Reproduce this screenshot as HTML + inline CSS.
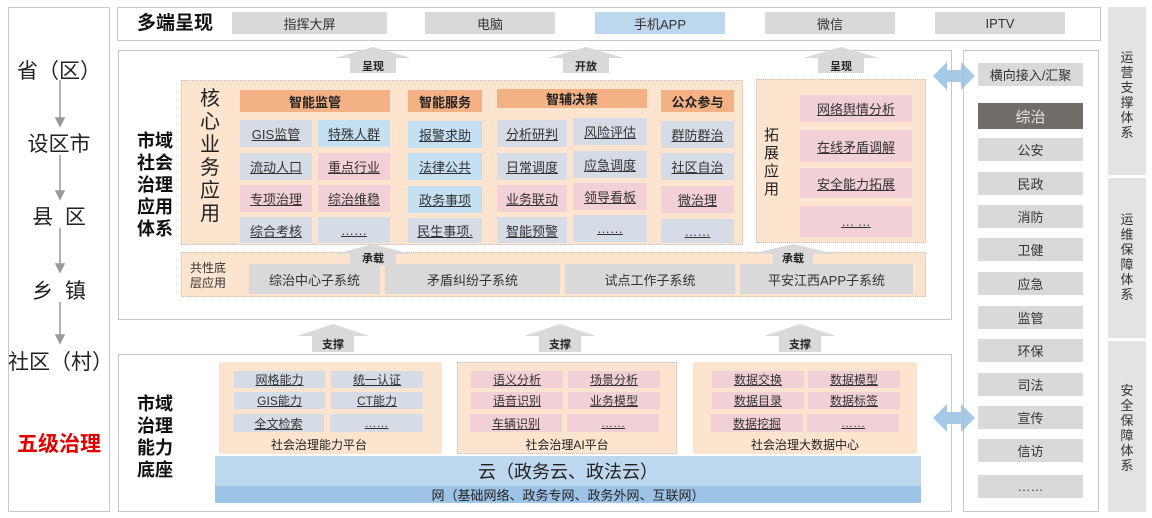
<!DOCTYPE html>
<html><head><meta charset="utf-8">
<style>
*{margin:0;padding:0;box-sizing:border-box}
body{width:1152px;height:518px;position:relative;background:#fff;font-family:"Liberation Sans","Noto Sans CJK SC",sans-serif;color:#333;overflow:hidden}
.a{position:absolute}
.c{position:absolute;display:flex;align-items:center;justify-content:center;font-size:13px;text-decoration:underline;color:#333;white-space:nowrap}
.g{background:#d6dce5}.b{background:#c4e0f2}.p{background:#f2d0d7}.gr{background:#d9d9d9}
.h{position:absolute;display:flex;align-items:center;justify-content:center;background:#f4b183;font-weight:bold;font-size:13px;color:#222}
.v{position:absolute;font-size:13px;line-height:15px;text-align:center;width:16px;color:#333}
.box{position:absolute;border:1.5px solid #c8c8c8;background:#fff}
.peach{position:absolute;background:#fde4cf;border:1px dotted #cbb}
.s{position:absolute;display:flex;align-items:center;justify-content:center;background:#d9d9d9;font-size:13px;color:#333}
.t{position:absolute;font-weight:bold;font-size:18px;line-height:22px;color:#111;text-align:center}
.lv{position:absolute;left:8px;width:102px;text-align:center;font-size:21px;color:#222}
</style></head><body>

<!-- left panel -->
<div class="box" style="left:8px;top:7px;width:102px;height:505px"></div>
<div class="lv" style="top:55px">省（区）</div>
<div class="lv" style="top:128px">设区市</div>
<div class="lv" style="top:201px">县&nbsp;&nbsp;区</div>
<div class="lv" style="top:275px">乡&nbsp;&nbsp;镇</div>
<div class="lv" style="top:346px">社区（村）</div>
<div class="lv" style="top:428px;color:#e00000;font-weight:bold">五级治理</div>
<svg class="a" style="left:0;top:0" width="120" height="518">
<g stroke="#999" stroke-width="1.5" fill="#999">
<line x1="60" y1="80" x2="60" y2="120"/><polygon points="56,118 64,118 60,126"/>
<line x1="60" y1="155" x2="60" y2="193"/><polygon points="56,191 64,191 60,199"/>
<line x1="60" y1="228" x2="60" y2="266"/><polygon points="56,264 64,264 60,272"/>
<line x1="60" y1="302" x2="60" y2="337"/><polygon points="56,335 64,335 60,343"/>
</g></svg>

<!-- top bar -->
<div class="box" style="left:117px;top:7px;width:984px;height:34px"></div>
<div class="t" style="left:137px;top:13px;font-size:19px">多端呈现</div>
<div class="s" style="left:232px;top:12px;width:155px;height:22px">指挥大屏</div>
<div class="s" style="left:425px;top:12px;width:130px;height:22px">电脑</div>
<div class="s" style="left:595px;top:12px;width:130px;height:22px;background:#bdd7ee">手机APP</div>
<div class="s" style="left:765px;top:12px;width:130px;height:22px">微信</div>
<div class="s" style="left:935px;top:12px;width:130px;height:22px">IPTV</div>

<!-- middle panel -->
<div class="box" style="left:118px;top:50px;width:834px;height:270px"></div>
<div class="t" style="left:133px;top:130px;width:44px">市域<br>社会<br>治理<br>应用<br>体系</div>

<!-- core box -->
<div class="peach" style="left:181px;top:80px;width:562px;height:165px"></div>
<div class="a" style="left:199px;top:88px;width:22px;font-size:20px;line-height:23px;text-align:center;color:#222">核心业务应用</div>
<div class="h" style="left:240px;top:90px;width:150px;height:22px">智能监管</div>
<div class="h" style="left:408px;top:90px;width:74px;height:22px">智能服务</div>
<div class="h" style="left:497px;top:89px;width:150px;height:19px">智辅决策</div>
<div class="h" style="left:661px;top:90px;width:73px;height:22px">公众参与</div>

<div class="c g" style="left:240px;top:120px;width:72px;height:27px">GIS监管</div>
<div class="c b" style="left:318px;top:120px;width:72px;height:27px">特殊人群</div>
<div class="c g" style="left:240px;top:153px;width:72px;height:27px">流动人口</div>
<div class="c p" style="left:318px;top:153px;width:72px;height:27px">重点行业</div>
<div class="c p" style="left:240px;top:185px;width:72px;height:27px">专项治理</div>
<div class="c p" style="left:318px;top:185px;width:72px;height:27px">综治维稳</div>
<div class="c g" style="left:240px;top:217px;width:72px;height:26px">综合考核</div>
<div class="c g" style="left:318px;top:217px;width:72px;height:26px">……</div>

<div class="c b" style="left:408px;top:121px;width:74px;height:27px">报警求助</div>
<div class="c b" style="left:408px;top:153px;width:74px;height:27px">法律公共</div>
<div class="c b" style="left:408px;top:186px;width:74px;height:27px">政务事项</div>
<div class="c g" style="left:408px;top:218px;width:74px;height:25px">民生事项.</div>

<div class="c g" style="left:497px;top:120px;width:70px;height:27px">分析研判</div>
<div class="c g" style="left:573px;top:118px;width:74px;height:27px">风险评估</div>
<div class="c g" style="left:497px;top:153px;width:70px;height:27px">日常调度</div>
<div class="c g" style="left:573px;top:151px;width:74px;height:27px">应急调度</div>
<div class="c p" style="left:497px;top:185px;width:70px;height:27px">业务联动</div>
<div class="c p" style="left:573px;top:183px;width:74px;height:27px">领导看板</div>
<div class="c g" style="left:497px;top:217px;width:70px;height:26px">智能预警</div>
<div class="c g" style="left:573px;top:215px;width:74px;height:27px">……</div>

<div class="c g" style="left:661px;top:121px;width:73px;height:27px">群防群治</div>
<div class="c g" style="left:661px;top:153px;width:73px;height:27px">社区自治</div>
<div class="c p" style="left:661px;top:186px;width:73px;height:27px">微治理</div>
<div class="c g" style="left:661px;top:219px;width:73px;height:24px">……</div>

<!-- expand -->
<div class="peach" style="left:756px;top:79px;width:170px;height:164px"></div>
<div class="a" style="left:764px;top:127px;width:16px;font-size:15px;line-height:18px;color:#222">拓展应用</div>
<div class="c p" style="left:800px;top:95px;width:112px;height:27px">网络舆情分析</div>
<div class="c p" style="left:800px;top:130px;width:112px;height:32px">在线矛盾调解</div>
<div class="c p" style="left:800px;top:168px;width:112px;height:30px">安全能力拓展</div>
<div class="c p" style="left:800px;top:206px;width:112px;height:31px">… …</div>

<!-- common -->
<div class="peach" style="left:181px;top:252px;width:745px;height:45px"></div>
<div class="a" style="left:190px;top:261px;font-size:12px;line-height:15px;color:#333">共性底<br>层应用</div>
<div class="s" style="left:249px;top:264px;width:131px;height:30px">综治中心子系统</div>
<div class="s" style="left:385px;top:264px;width:175px;height:30px">矛盾纠纷子系统</div>
<div class="s" style="left:565px;top:264px;width:170px;height:30px">试点工作子系统</div>
<div class="s" style="left:740px;top:264px;width:173px;height:30px">平安江西APP子系统</div>

<!-- bottom panel -->
<div class="box" style="left:118px;top:354px;width:834px;height:158px"></div>
<div class="t" style="left:133px;top:393px;width:44px">市域<br>治理<br>能力<br>底座</div>

<div class="peach" style="left:219px;top:362px;width:223px;height:92px;border:none"></div>
<div class="c g" style="left:234px;top:371px;width:91px;height:17px;font-size:12px">网格能力</div>
<div class="c g" style="left:331px;top:371px;width:92px;height:17px;font-size:12px">统一认证</div>
<div class="c g" style="left:234px;top:392px;width:91px;height:17px;font-size:12px">GIS能力</div>
<div class="c g" style="left:331px;top:392px;width:92px;height:17px;font-size:12px">CT能力</div>
<div class="c g" style="left:233px;top:414px;width:91px;height:18px;font-size:12px">全文检索</div>
<div class="c g" style="left:330px;top:414px;width:93px;height:18px;font-size:12px">……</div>
<div class="a" style="left:219px;top:436px;width:200px;text-align:center;font-size:12px;color:#222">社会治理能力平台</div>

<div class="peach" style="left:457px;top:362px;width:220px;height:92px"></div>
<div class="c p" style="left:471px;top:371px;width:92px;height:17px;font-size:12px">语义分析</div>
<div class="c p" style="left:568px;top:371px;width:92px;height:17px;font-size:12px">场景分析</div>
<div class="c p" style="left:471px;top:392px;width:92px;height:17px;font-size:12px">语音识别</div>
<div class="c p" style="left:568px;top:392px;width:92px;height:17px;font-size:12px">业务模型</div>
<div class="c p" style="left:470px;top:414px;width:92px;height:18px;font-size:12px">车辆识别</div>
<div class="c p" style="left:567px;top:414px;width:92px;height:18px;font-size:12px">……</div>
<div class="a" style="left:457px;top:436px;width:220px;text-align:center;font-size:12px;color:#222">社会治理AI平台</div>

<div class="peach" style="left:693px;top:362px;width:224px;height:92px;border:none"></div>
<div class="c p" style="left:712px;top:371px;width:92px;height:17px;font-size:12px">数据交换</div>
<div class="c p" style="left:808px;top:371px;width:92px;height:17px;font-size:12px">数据模型</div>
<div class="c p" style="left:712px;top:392px;width:92px;height:17px;font-size:12px">数据目录</div>
<div class="c p" style="left:808px;top:392px;width:92px;height:17px;font-size:12px">数据标签</div>
<div class="c p" style="left:711px;top:414px;width:92px;height:18px;font-size:12px">数据挖掘</div>
<div class="c p" style="left:807px;top:414px;width:92px;height:18px;font-size:12px">……</div>
<div class="a" style="left:693px;top:436px;width:224px;text-align:center;font-size:12px;color:#222">社会治理大数据中心</div>

<div class="a" style="left:215px;top:456px;width:706px;height:30px;background:#bdd7ee;display:flex;align-items:center;justify-content:center;font-size:18px;color:#222">云（政务云、政法云）</div>
<div class="a" style="left:215px;top:486px;width:706px;height:17px;background:#9dc3e6;display:flex;align-items:center;justify-content:center;font-size:13px;color:#222">网（基础网络、政务专网、政务外网、互联网）</div>

<!-- right panel -->
<div class="box" style="left:963px;top:50px;width:136px;height:462px"></div>
<div class="s" style="left:978px;top:63px;width:105px;height:23px">横向接入/汇聚</div>
<div class="s" style="left:978px;top:103px;width:105px;height:26px;background:#706c6a;color:#e6e6e6;font-size:15px">综治</div>
<div class="s" style="left:978px;top:138px;width:105px;height:23px">公安</div>
<div class="s" style="left:978px;top:172px;width:105px;height:23px">民政</div>
<div class="s" style="left:978px;top:205px;width:105px;height:23px">消防</div>
<div class="s" style="left:978px;top:238px;width:105px;height:23px">卫健</div>
<div class="s" style="left:978px;top:272px;width:105px;height:23px">应急</div>
<div class="s" style="left:978px;top:306px;width:105px;height:23px">监管</div>
<div class="s" style="left:978px;top:339px;width:105px;height:23px">环保</div>
<div class="s" style="left:978px;top:373px;width:105px;height:23px">司法</div>
<div class="s" style="left:978px;top:406px;width:105px;height:23px">宣传</div>
<div class="s" style="left:978px;top:439px;width:105px;height:23px">信访</div>
<div class="s" style="left:978px;top:475px;width:105px;height:23px">……</div>

<!-- far right -->
<div class="a" style="left:1108px;top:7px;width:38px;height:168px;background:#e3e3e3"></div>
<div class="a" style="left:1108px;top:178px;width:38px;height:160px;background:#e3e3e3"></div>
<div class="a" style="left:1108px;top:341px;width:38px;height:171px;background:#e3e3e3"></div>
<div class="v" style="left:1119px;top:50px">运营支撑体系</div>
<div class="v" style="left:1119px;top:212px">运维保障体系</div>
<div class="v" style="left:1119px;top:383px">安全保障体系</div>

<!-- arrows (on top) -->
<svg class="a" style="left:0;top:0" width="1152" height="518">
<g fill="#d9d9d9">
<polygon points="335,58 373,47 411,58 396,58 396,73 350,73 350,58"/>
<polygon points="548,58 586,47 624,58 609,58 609,73 563,73 563,58"/>
<polygon points="803,58 841,47 879,58 864,58 864,73 818,73 818,58"/>
<polygon points="335,254 373,244 411,254 396,254 396,266 350,266 350,254"/>
<polygon points="750,254 793,244 836,254 813,254 813,266 773,266 773,254"/>
<polygon points="297,336 333,324 369,336 354,336 354,352 312,352 312,336"/>
<polygon points="524,336 560,324 596,336 581,336 581,352 539,352 539,336"/>
<polygon points="764,336 800,324 836,336 821,336 821,352 779,352 779,336"/>
</g>
<g fill="#9dc3e6" opacity="0.9">
<polygon points="933,76 947,62 947,70 961,70 961,62 975,76 961,90 961,82 947,82 947,90"/>
<polygon points="933,418 947,404 947,412 961,412 961,404 975,418 961,432 961,424 947,424 947,432"/>
</g>
<g font-family="Liberation Sans,Noto Sans CJK SC,sans-serif" font-size="11" font-weight="bold" fill="#222" text-anchor="middle">
<text x="373" y="70">呈现</text><text x="586" y="70">开放</text><text x="841" y="70">呈现</text>
<text x="373" y="262">承载</text><text x="793" y="262">承载</text>
<text x="333" y="348">支撑</text><text x="560" y="348">支撑</text><text x="800" y="348">支撑</text>
</g></svg>
</body></html>
